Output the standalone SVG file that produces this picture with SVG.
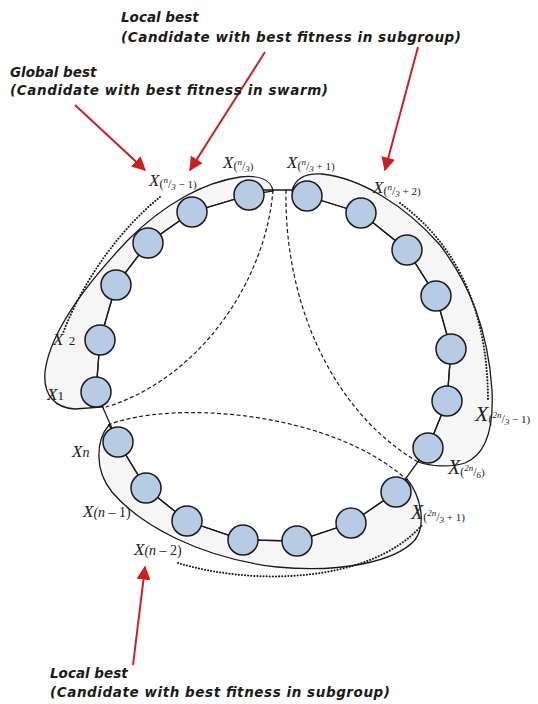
<svg xmlns="http://www.w3.org/2000/svg" width="538" height="704" viewBox="0 0 538 704">
<style>
.env{fill:#f6f6f6;stroke:#1a1a1a;stroke-width:1.3}
.chain{fill:none;stroke:#1a1a1a;stroke-width:1.3}
.dash{fill:none;stroke:#1a1a1a;stroke-width:1.2;stroke-dasharray:4 2.5}
.dot{fill:none;stroke:#1a1a1a;stroke-width:2;stroke-dasharray:0.1 3;stroke-linecap:round}
.node{fill:#b8cbe4;stroke:#1a1a1a;stroke-width:1.5}
.arr{stroke:#cc1f1f;stroke-width:2;fill:none;marker-end:url(#ah)}
.call{font-family:"DejaVu Sans","Verdana",sans-serif;font-weight:bold;font-style:italic;font-size:13.5px;fill:#1a1a1a}
.x{font-family:"Liberation Serif","Times New Roman",serif;font-style:italic;font-size:17px;fill:#222}
.p{font-size:12px;font-style:normal}
.q{font-size:11px;font-style:normal}
.sm{font-size:9px}
</style>
<defs>
<marker id="ah" viewBox="0 0 10 10" refX="9" refY="5" markerWidth="7" markerHeight="7" orient="auto" markerUnits="strokeWidth">
<path d="M0,0 L10,5 L0,10 z" fill="#cc1f1f"/>
</marker>
</defs>

<g id="envelopes">
<path class="env" d="M273,191 C271,179 258,175 240,177 C205,182 165,203 128,240 C90,280 50,330 45,372 C43,395 55,408 75,409 L103,407 L96,392 L100,340 L116,285 L148,243 L192,212 L249,195 Z"/>
<path class="env" d="M292,191 C295,178 305,173 322,174 C360,178 405,205 440,245 C470,285 488,330 492,390 C494,430 485,455 465,463 C450,468 430,466 418,462 L428,448 L447,401 L451,349 L436,296 L407,250 L361,213 L307,196 Z"/>
<path class="env" d="M109,425 C96,440 94,470 112,492 C140,525 200,558 277,567 C340,573 395,562 415,540 C426,525 422,498 407,479 L396,492 L351,523 L297,541 L243,540 L187,521 L146,488 L118,442 Z"/>
</g>

<g id="connectors">
<polyline class="chain" points="249,195 192,212 148,243 116,285 100,340 96,392 118,442 146,488 187,521 243,540 297,541 351,523 396,492 428,448 447,401 451,349 436,296 407,250 361,213 307,196"/>
<polyline class="chain" points="249,195 262,190 293,190 307,196"/>
<path class="dash" d="M273,190 C266,280 200,380 103,408"/>
<path class="dash" d="M286,190 C284,300 330,410 418,462"/>
<path class="dash" d="M108,425 C170,400 330,410 407,480"/>
<path class="dot" d="M160,197 C125,225 85,275 63,333"/>
<path class="dot" d="M400,203 C450,240 488,300 488,402"/>
<path class="dot" d="M178,563 C250,585 370,585 423,524"/>
<line class="arr" x1="75" y1="105" x2="145" y2="170"/>
<line class="arr" x1="265" y1="52" x2="190" y2="170"/>
<line class="arr" x1="418" y1="47" x2="385" y2="170"/>
<line class="arr" x1="133" y1="665" x2="145" y2="567"/>
</g>

<g id="n1"><circle class="node" cx="96" cy="392" r="15"/></g>
<g id="n2"><circle class="node" cx="100" cy="340" r="15"/></g>
<g id="n3"><circle class="node" cx="116" cy="285" r="15"/></g>
<g id="n4"><circle class="node" cx="148" cy="243" r="15"/></g>
<g id="n5"><circle class="node" cx="192" cy="212" r="15"/></g>
<g id="n6"><circle class="node" cx="249" cy="195" r="15"/></g>
<g id="n7"><circle class="node" cx="307" cy="196" r="15"/></g>
<g id="n8"><circle class="node" cx="361" cy="213" r="15"/></g>
<g id="n9"><circle class="node" cx="407" cy="250" r="15"/></g>
<g id="n10"><circle class="node" cx="436" cy="296" r="15"/></g>
<g id="n11"><circle class="node" cx="451" cy="349" r="15"/></g>
<g id="n12"><circle class="node" cx="447" cy="401" r="15"/></g>
<g id="n13"><circle class="node" cx="428" cy="448" r="15"/></g>
<g id="n14"><circle class="node" cx="396" cy="492" r="15"/></g>
<g id="n15"><circle class="node" cx="351" cy="523" r="15"/></g>
<g id="n16"><circle class="node" cx="297" cy="541" r="15"/></g>
<g id="n17"><circle class="node" cx="243" cy="540" r="15"/></g>
<g id="n18"><circle class="node" cx="187" cy="521" r="15"/></g>
<g id="n19"><circle class="node" cx="146" cy="488" r="15"/></g>
<g id="n20"><circle class="node" cx="118" cy="442" r="15"/></g>

<g id="labels">
<text class="x" x="149" y="186">X<tspan class="p" dy="2">(</tspan><tspan class="sm" dy="-5">n</tspan><tspan class="p" dy="5">/</tspan><tspan class="sm" dy="2">3</tspan><tspan class="q" dy="-2"> − 1)</tspan></text>
<text class="x" x="223" y="168">X<tspan class="p" dy="2">(</tspan><tspan class="sm" dy="-5">n</tspan><tspan class="p" dy="5">/</tspan><tspan class="sm" dy="2">3</tspan><tspan class="q" dy="-2">)</tspan></text>
<text class="x" x="287" y="168">X<tspan class="p" dy="2">(</tspan><tspan class="sm" dy="-5">n</tspan><tspan class="p" dy="5">/</tspan><tspan class="sm" dy="2">3</tspan><tspan class="q" dy="-2"> + 1)</tspan></text>
<text class="x" x="373" y="193">X<tspan class="p" dy="2">(</tspan><tspan class="sm" dy="-5">n</tspan><tspan class="p" dy="5">/</tspan><tspan class="sm" dy="2">3</tspan><tspan class="q" dy="-2"> + 2)</tspan></text>
<text class="x" x="475" y="421" style="font-size:22px">X<tspan class="p" dy="2">(</tspan><tspan class="sm" dy="-5">2n</tspan><tspan class="p" dy="5">/</tspan><tspan class="sm" dy="2">3</tspan><tspan class="q" dy="-2"> − 1)</tspan></text>
<text class="x" x="448" y="474" style="font-size:20px">X<tspan class="p" dy="2">(</tspan><tspan class="sm" dy="-5">2n</tspan><tspan class="p" dy="5">/</tspan><tspan class="sm" dy="2">6</tspan><tspan class="q" dy="-2">)</tspan></text>
<text class="x" x="411" y="519" style="font-size:20px">X<tspan class="p" dy="2">(</tspan><tspan class="sm" dy="-5">2n</tspan><tspan class="p" dy="5">/</tspan><tspan class="sm" dy="2">3</tspan><tspan class="q" dy="-2"> + 1)</tspan></text>
<text class="x" x="53" y="345">X<tspan class="p" dx="2" style="font-size:13px"> 2</tspan></text>
<text class="x" x="47" y="400">X<tspan class="p" style="font-size:13px">1</tspan></text>
<text class="x" x="72" y="457">X<tspan style="font-size:14px">n</tspan></text>
<text class="x" x="83" y="517">X<tspan style="font-size:14px">(n</tspan><tspan style="font-size:14px;font-style:normal"> – 1)</tspan></text>
<text class="x" x="134" y="555">X<tspan style="font-size:14px">(n</tspan><tspan style="font-size:14px;font-style:normal"> – 2)</tspan></text>

<text class="call" x="121" y="22">Local best</text>
<text class="call" x="121" y="42" textLength="340">(Candidate with best fitness in subgroup)</text>
<text class="call" x="10" y="77">Global best</text>
<text class="call" x="10" y="95" textLength="318">(Candidate with best fitness in swarm)</text>
<text class="call" x="50" y="678">Local best</text>
<text class="call" x="50" y="697" textLength="340">(Candidate with best fitness in subgroup)</text>
</g>
</svg>
